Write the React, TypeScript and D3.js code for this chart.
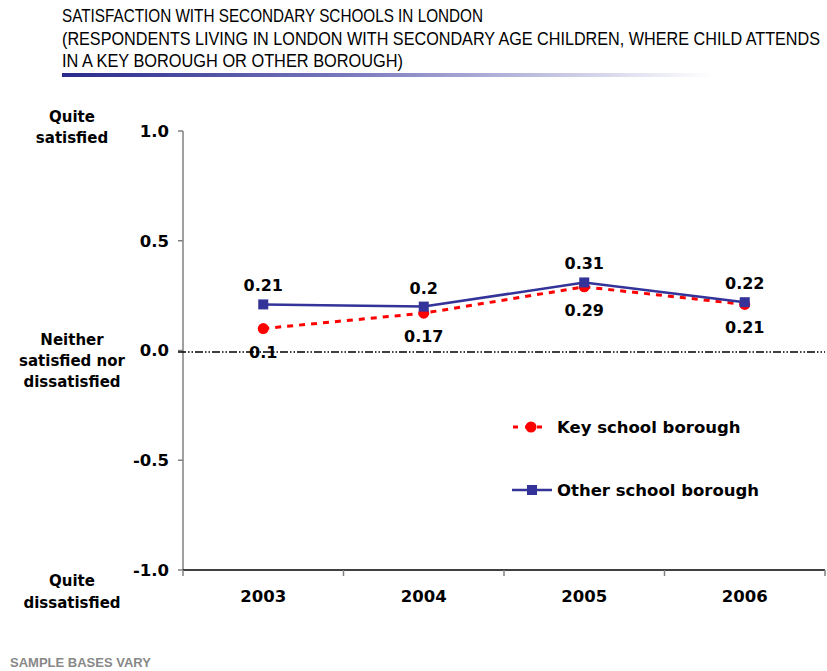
import * as d3 from "d3";

// Data
const years = ["2003", "2004", "2005", "2006"];
const keyBorough = [0.1, 0.17, 0.29, 0.21];
const otherBorough = [0.21, 0.2, 0.31, 0.22];
const yTicks = [-1.0, -0.5, 0.0, 0.5, 1.0];
const titleLines = [
  "SATISFACTION WITH SECONDARY SCHOOLS IN LONDON",
  "(RESPONDENTS LIVING IN LONDON WITH SECONDARY AGE CHILDREN, WHERE CHILD ATTENDS",
  "IN A KEY BOROUGH OR OTHER BOROUGH)",
];
const seriesNames = ["Key school borough", "Other school borough"];

const W = 827;
const H = 671;
const FONT = "'DejaVu Sans', Verdana, sans-serif";
const SANS = "'Liberation Sans', Arial, sans-serif";
const NARROW = "'Liberation Sans Narrow', 'Arial Narrow', 'Liberation Sans', sans-serif";
const RED = "#ff0000";
const BLUE = "#333399";

export default function App() {
  const plot = { left: 183, right: 825, top: 131, bottom: 570 };

  const x = d3.scaleBand<string>().domain(years).range([plot.left, plot.right]).padding(0);
  const y = d3.scaleLinear().domain([-1, 1]).range([plot.bottom, plot.top]);
  const cx = (yr: string) => (x(yr) ?? 0) + x.bandwidth() / 2;
  const fmt = (t: number) => d3.format(".1f")(t).replace("\u2212", "-");

  const line = d3
    .line<number>()
    .x((_, i) => cx(years[i]))
    .y((d) => y(d));

  // condensed title: squeeze horizontally
  const squeeze = 0.75;
  const titleWidths = [421, 758, 341];

  return (
    <svg
      width={W}
      height={H}
      style={{ position: "absolute", left: 0, top: 0, background: "#fff" }}
    >
      <defs>
        <linearGradient id="bar" x1="0" x2="1" y1="0" y2="0">
          <stop offset="0" stopColor="#2a2a8c" />
          <stop offset="0.45" stopColor="#7b7bbf" />
          <stop offset="1" stopColor="#ffffff" />
        </linearGradient>
      </defs>

      {/* Title */}
      {titleLines.map((t, i) => (
        <text
          key={i}
          transform={`translate(62,${22 + i * 22.5}) scale(${squeeze},1)`}
          fontFamily={SANS}
          fontSize={19}
          textLength={titleWidths[i] / squeeze}
          lengthAdjust="spacingAndGlyphs"
          fill="#000"
        >
          {t}
        </text>
      ))}
      <rect x={62} y={73} width={650} height={4} fill="url(#bar)" />

      {/* Y axis */}
      <line x1={plot.left} x2={plot.left} y1={plot.top} y2={plot.bottom} stroke="#808080" strokeWidth={1.5} />
      {yTicks.map((t) => (
        <g key={t}>
          <line x1={plot.left - 5} x2={plot.left} y1={y(t)} y2={y(t)} stroke="#808080" strokeWidth={1.5} />
          <text
            x={169}
            y={y(t)}
            dy="0.36em"
            textAnchor="end"
            fontFamily={FONT}
            fontWeight="bold"
            fontSize={16.5}
          >
            {fmt(t)}
          </text>
        </g>
      ))}

      {/* Y side labels */}
      <g fontFamily={FONT} fontWeight="bold" fontSize={15} textAnchor="middle">
        <text x={72} y={122}>Quite</text>
        <text x={72} y={143}>satisfied</text>
        <text x={72} y={345}>Neither</text>
        <text x={72} y={366}>satisfied nor</text>
        <text x={72} y={387}>dissatisfied</text>
        <text x={72} y={586}>Quite</text>
        <text x={72} y={608}>dissatisfied</text>
      </g>

      {/* Zero line */}
      <line
        x1={178}
        x2={plot.right}
        y1={y(0) + 1.5}
        y2={y(0) + 1.5}
        stroke="#000"
        strokeWidth={1.5}
        strokeDasharray="8,2,1.5,2,1.5,2"
      />

      {/* X axis */}
      <line x1={plot.left} x2={plot.right} y1={plot.bottom} y2={plot.bottom} stroke="#000" strokeWidth={1.5} />
      {[...years.map((yr) => x(yr) ?? 0), plot.right].map((px, i) => (
        <line key={i} x1={px} x2={px} y1={plot.bottom} y2={plot.bottom + 6} stroke="#808080" strokeWidth={1.5} />
      ))}
      {years.map((yr) => (
        <text
          key={yr}
          x={cx(yr)}
          y={602}
          textAnchor="middle"
          fontFamily={FONT}
          fontWeight="bold"
          fontSize={16.5}
        >
          {yr}
        </text>
      ))}

      {/* Key school borough */}
      <path d={line(keyBorough) ?? ""} fill="none" stroke={RED} strokeWidth={3} strokeDasharray="6,6" />
      {keyBorough.map((v, i) => (
        <circle key={i} cx={cx(years[i])} cy={y(v)} r={5.5} fill={RED} />
      ))}

      {/* Other school borough */}
      <path d={line(otherBorough) ?? ""} fill="none" stroke={BLUE} strokeWidth={2.5} />
      {otherBorough.map((v, i) => (
        <rect key={i} x={cx(years[i]) - 5} y={y(v) - 5} width={10} height={10} fill={BLUE} />
      ))}

      {/* Data labels */}
      <g fontFamily={FONT} fontWeight="bold" fontSize={16} textAnchor="middle">
        {otherBorough.map((v, i) => (
          <text key={"o" + i} x={cx(years[i])} y={y(v) - 13}>
            {String(v)}
          </text>
        ))}
        {keyBorough.map((v, i) => (
          <text key={"k" + i} x={cx(years[i])} y={y(v) + 29}>
            {String(v)}
          </text>
        ))}
      </g>

      {/* Legend */}
      <g fontFamily={FONT} fontWeight="bold" fontSize={16.5}>
        <line x1={513} x2={549} y1={427} y2={427} stroke={RED} strokeWidth={3} strokeDasharray="5,7" />
        <circle cx={531} cy={427} r={5.5} fill={RED} />
        <text x={557} y={433}>{seriesNames[0]}</text>
        <line x1={512} x2={552} y1={490} y2={490} stroke={BLUE} strokeWidth={2.5} />
        <rect x={527} y={485} width={10} height={10} fill={BLUE} />
        <text x={557} y={496}>{seriesNames[1]}</text>
      </g>

      {/* Footer */}
      <text x={10} y={667} fontFamily={NARROW} fontWeight="bold" fontSize={13} fill="#888">
        SAMPLE BASES VARY
      </text>
    </svg>
  );
}
